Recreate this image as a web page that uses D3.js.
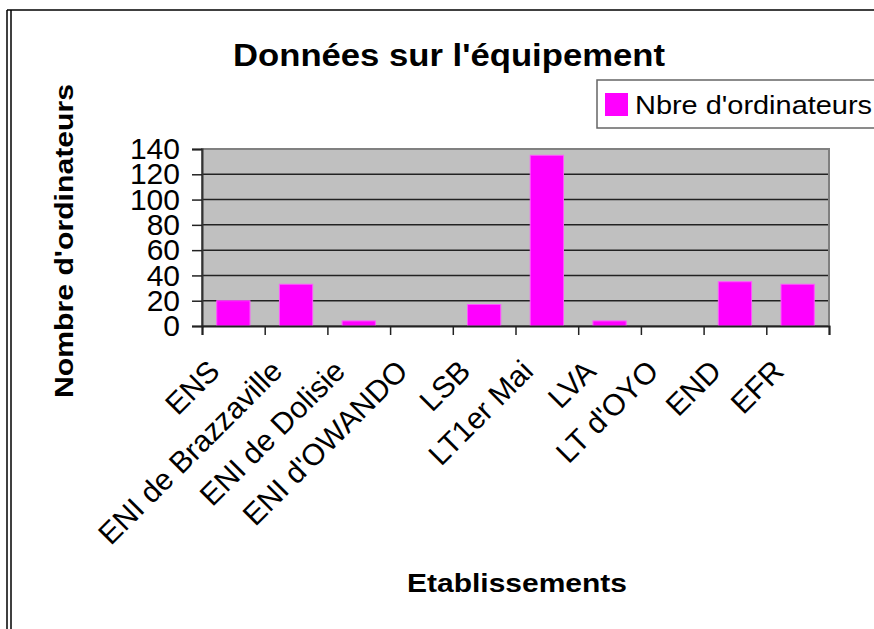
<!DOCTYPE html>
<html>
<head>
<meta charset="utf-8">
<script src="https://cdn.jsdelivr.net/npm/d3@7/dist/d3.min.js"></script>
<style>
    body { margin: 0; background: #fff; }
    text { font-family: "Liberation Sans", Arial, sans-serif; fill: #000; }
</style>
</head>
<body>
<div id="chart-area"></div>
<script>

// Data
var categories = ["ENS", "ENI de Brazzaville", "ENI de Dolisie", "ENI d'OWANDO", "LSB",
    "LT1er Mai", "LVA", "LT d'OYO", "END", "EFR"];
var computers = [20, 33, 4, 0, 17, 135, 4, 0, 35, 33];
var yTicks = [0, 20, 40, 60, 80, 100, 120, 140];
var seriesName = "Nbre d'ordinateurs";

var width = 874, height = 629;
var margin = { top: 149, right: 45, bottom: 303, left: 202 };
var plotW = width - margin.left - margin.right,
    plotH = height - margin.top - margin.bottom;

var svg = d3.select("#chart-area").append("svg")
    .attr("width", width)
    .attr("height", height);

// outer frame (double line on the left, single on top)
svg.append("line").attr("x1", 7).attr("x2", width).attr("y1", 10).attr("y2", 10)
    .attr("stroke", "#000").attr("stroke-width", 1.5);
svg.append("line").attr("x1", 7).attr("x2", 7).attr("y1", 10).attr("y2", height)
    .attr("stroke", "#000").attr("stroke-width", 1.5);
svg.append("line").attr("x1", 11).attr("x2", 11).attr("y1", 10).attr("y2", height)
    .attr("stroke", "#000").attr("stroke-width", 1.5);

// Title
svg.append("text")
    .attr("x", 449)
    .attr("y", 66)
    .attr("text-anchor", "middle")
    .attr("font-size", 31)
    .attr("font-weight", "bold")
    .attr("textLength", 432)
    .attr("lengthAdjust", "spacingAndGlyphs")
    .text("Données sur l'équipement");

// Legend
var legend = svg.append("g").attr("transform", "translate(597,80)");
legend.append("rect")
    .attr("width", 290).attr("height", 48)
    .attr("fill", "#fff").attr("stroke", "#666").attr("stroke-width", 1.5);
legend.append("rect")
    .attr("x", 8).attr("y", 13).attr("width", 23).attr("height", 23)
    .attr("fill", "#ff00ff");
legend.append("text")
    .attr("x", 38).attr("y", 34)
    .attr("font-size", 26)
    .attr("textLength", 237)
    .attr("lengthAdjust", "spacingAndGlyphs")
    .text(seriesName);

var g = svg.append("g")
    .attr("transform", "translate(" + margin.left + "," + margin.top + ")");

// Scales
var x = d3.scaleBand()
    .domain(categories)
    .range([0, plotW])
    .paddingInner(0.47)
    .paddingOuter(0.235);

var xBound = d3.scaleLinear().domain([0, categories.length]).range([0, plotW]);

var y = d3.scaleLinear()
    .domain([0, 140])
    .range([plotH, 0]);

// plot background
g.append("rect")
    .attr("width", plotW).attr("height", plotH)
    .attr("fill", "#c0c0c0");

// gridlines
g.selectAll(".grid")
    .data(yTicks.slice(1, -1))
    .enter().append("line")
    .attr("class", "grid")
    .attr("x1", 0).attr("x2", plotW)
    .attr("y1", function(d) { return y(d); })
    .attr("y2", function(d) { return y(d); })
    .attr("stroke", "#222").attr("stroke-width", 1.5);

// plot border
g.append("rect")
    .attr("width", plotW).attr("height", plotH)
    .attr("fill", "none").attr("stroke", "#808080").attr("stroke-width", 2);

// Bars
g.selectAll(".bar")
    .data(computers)
    .enter().append("rect")
    .attr("class", "bar")
    .attr("x", function(d, i) { return x(categories[i]); })
    .attr("width", x.bandwidth())
    .attr("y", function(d) { return y(d); })
    .attr("height", function(d) { return plotH - y(d); })
    .attr("fill", "#ff00ff")
    .attr("stroke", "#ff55ff")
    .attr("stroke-width", function(d) { return d > 0 ? 1 : 0; });

// Y axis
var yAxis = d3.axisLeft(y)
    .tickValues(yTicks)
    .tickSize(10)
    .tickPadding(12);

var yG = g.append("g").attr("class", "y-axis").call(yAxis);
yG.select(".domain").attr("stroke", "#333").attr("stroke-width", 2);
yG.selectAll(".tick line").attr("stroke", "#222").attr("stroke-width", 1.5);
yG.selectAll(".tick text")
    .attr("font-size", 30)
    .attr("font-family", "Liberation Sans, Arial, sans-serif")
    .attr("fill", "#000");

// X axis: ticks at category boundaries
var xAxis = d3.axisBottom(xBound)
    .tickValues(d3.range(categories.length + 1))
    .tickSize(9)
    .tickFormat("");

var xG = g.append("g")
    .attr("class", "x-axis")
    .attr("transform", "translate(0," + plotH + ")")
    .call(xAxis);
xG.select(".domain").attr("stroke", "#222").attr("stroke-width", 2);
xG.selectAll(".tick line").attr("stroke", "#222").attr("stroke-width", 1.5);

// category labels, rotated
g.selectAll(".xlabel")
    .data(categories)
    .enter().append("text")
    .attr("class", "xlabel")
    .attr("transform", function(d) {
        return "translate(" + (x(d) + x.bandwidth() / 2 - 12) + "," + (plotH + 47) + ") rotate(-45)";
    })
    .attr("text-anchor", "end")
    .attr("font-size", 30)
    .text(function(d) { return d; });

// Axis titles
svg.append("text")
    .attr("transform", "translate(73,241) rotate(-90)")
    .attr("text-anchor", "middle")
    .attr("font-size", 25)
    .attr("font-weight", "bold")
    .attr("textLength", 314)
    .attr("lengthAdjust", "spacingAndGlyphs")
    .text("Nombre d'ordinateurs");

svg.append("text")
    .attr("x", 517)
    .attr("y", 592)
    .attr("text-anchor", "middle")
    .attr("font-size", 26)
    .attr("font-weight", "bold")
    .attr("textLength", 220)
    .attr("lengthAdjust", "spacingAndGlyphs")
    .text("Etablissements");

</script>
</body>
</html>
